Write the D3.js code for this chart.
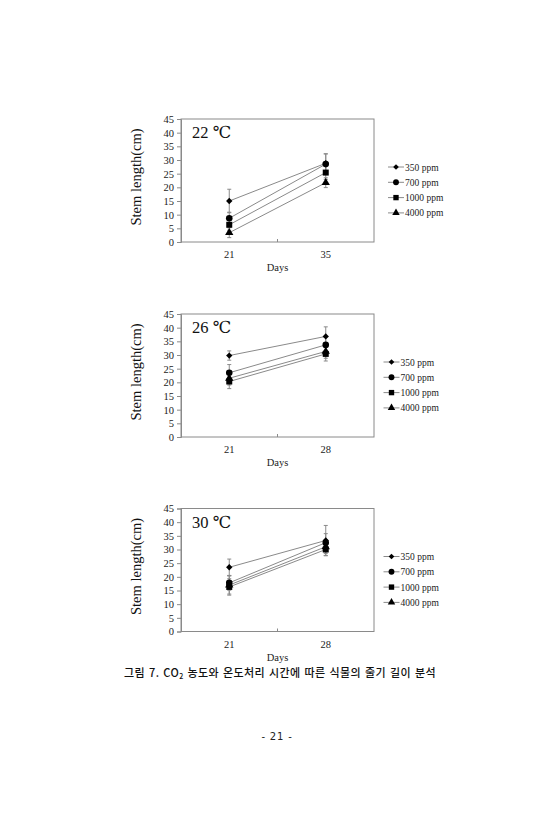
<!DOCTYPE html>
<html><head><meta charset="utf-8">
<script src="https://cdn.jsdelivr.net/npm/d3@7"></script>
<style>body{margin:0;background:#fff}svg{display:block}</style>
</head><body>
<script>
// ---- data ----
const seriesNames = ["350 ppm", "700 ppm", "1000 ppm", "4000 ppm"];
const panelTitles = ["22 ℃", "26 ℃", "30 ℃"];
const daysP1 = ["21", "35"];
const daysP2 = ["21", "28"];
const daysP3 = ["21", "28"];
const yTicks = [0, 5, 10, 15, 20, 25, 30, 35, 40, 45];
// values per series [day1, day2]
const p1_350 = [15.0, 28.8], p1_700 = [8.7, 28.5], p1_1000 = [6.3, 25.4], p1_4000 = [3.4, 21.7];
const p1_err350 = [4.3, 3.5], p1_err700 = [2.2, 3.7], p1_err1000 = [2.0, 2.5], p1_err4000 = [1.8, 1.8];
const p2_350 = [29.8, 36.8], p2_700 = [23.5, 33.7], p2_1000 = [20.3, 30.4], p2_4000 = [21.5, 31.3];
const p2_err350 = [1.7, 3.5], p2_err700 = [3.0, 3.0], p2_err1000 = [2.6, 2.6], p2_err4000 = [2.5, 2.5];
const p3_350 = [23.5, 33.3], p3_700 = [17.8, 32.5], p3_1000 = [16.3, 30.0], p3_4000 = [17.0, 31.0];
const p3_err350 = [3.0, 5.5], p3_err700 = [2.7, 3.3], p3_err1000 = [3.0, 2.3], p3_err4000 = [3.3, 2.5];

const panels = [
  {title: panelTitles[0], days: daysP1, vals: [p1_350, p1_700, p1_1000, p1_4000], errs: [p1_err350, p1_err700, p1_err1000, p1_err4000]},
  {title: panelTitles[1], days: daysP2, vals: [p2_350, p2_700, p2_1000, p2_4000], errs: [p2_err350, p2_err700, p2_err1000, p2_err4000]},
  {title: panelTitles[2], days: daysP3, vals: [p3_350, p3_700, p3_1000, p3_4000], errs: [p3_err350, p3_err700, p3_err1000, p3_err4000]}
];

// ---- layout ----
const W = 555, H = 840;
const tops = [119, 314, 508.5];
const legendX = [396, 391.5, 391.5];
const plotL = 181, plotR = 374, plotH = 123;
const serif = "'Liberation Serif','DejaVu Serif',serif";
const gray = "#8a8a8a";

const svg = d3.select("body").append("svg").attr("width", W).attr("height", H);
svg.append("rect").attr("width", W).attr("height", H).attr("fill", "#fff");

// diamond drawn as a rotated square for an even rhombus
const diamondSym = { draw(ctx, size) { const r = Math.sqrt(size / 2); ctx.moveTo(0, -r); ctx.lineTo(r, 0); ctx.lineTo(0, r); ctx.lineTo(-r, 0); ctx.closePath(); } };
const symTypes = [diamondSym, d3.symbolCircle, d3.symbolSquare, d3.symbolTriangle];
const symSizes = [20, 34, 36, 30];

panels.forEach((p, pi) => {
  const top = tops[pi], bottom = top + plotH;
  const x = d3.scaleBand().domain(p.days).range([plotL, plotR]).padding(0);
  const y = d3.scaleLinear().domain([0, 45]).range([bottom, top]);
  const g = svg.append("g");
  const cx = d => x(d) + x.bandwidth() / 2;

  // plot border
  g.append("rect").attr("x", plotL).attr("y", top).attr("width", plotR - plotL).attr("height", plotH)
    .attr("fill", "none").attr("stroke", gray).attr("stroke-width", 1);

  // y axis
  const ya = g.append("g").attr("transform", `translate(${plotL},0)`)
    .call(d3.axisLeft(y).tickValues(yTicks).tickSize(4).tickPadding(3));
  ya.select(".domain").attr("stroke", gray);
  ya.selectAll(".tick line").attr("stroke", gray);
  ya.selectAll("text").attr("font-family", serif).attr("font-size", 10.5).attr("fill", "#222");

  // x axis (ticks between categories)
  const xa = g.append("g").attr("transform", `translate(0,${bottom})`)
    .call(d3.axisBottom(x).tickSize(0).tickPadding(9));
  xa.select(".domain").remove();
  xa.selectAll("text").attr("font-family", serif).attr("font-size", 10.5).attr("fill", "#222");
  g.selectAll(".midtick").data(p.days.slice(1)).enter().append("line")
    .attr("x1", d => x(d)).attr("x2", d => x(d)).attr("y1", bottom).attr("y2", bottom - 3)
    .attr("stroke", gray);

  g.append("text").attr("x", (plotL + plotR) / 2).attr("y", bottom + 29).attr("text-anchor", "middle")
    .attr("font-family", serif).attr("font-size", 10.5).attr("fill", "#222").text("Days");

  // y label
  g.append("text").attr("transform", `translate(141,${top + 58}) rotate(-90)`).attr("text-anchor", "middle")
    .attr("font-family", serif).attr("font-size", 14.5).attr("fill", "#111").text("Stem length(cm)");

  // title
  g.append("text").attr("x", 192).attr("y", top + 19).attr("font-family", serif).attr("font-size", 16.5)
    .attr("fill", "#111").text(p.title);

  // series lines + error bars
  p.vals.forEach((vals, si) => {
    const errs = p.errs[si];
    const pts = p.days.map((d, i) => ({d, v: vals[i], e: errs[i]}));
    g.append("path").datum(pts)
      .attr("d", d3.line().x(q => cx(q.d)).y(q => y(q.v)))
      .attr("fill", "none").attr("stroke", gray).attr("stroke-width", 1);
    const eb = g.append("g");
    pts.forEach(q => {
      eb.append("line").attr("x1", cx(q.d)).attr("x2", cx(q.d)).attr("y1", y(q.v - q.e)).attr("y2", y(q.v + q.e))
        .attr("stroke", gray).attr("stroke-width", 1);
      [q.v - q.e, q.v + q.e].forEach(t => eb.append("line").attr("x1", cx(q.d) - 2).attr("x2", cx(q.d) + 2)
        .attr("y1", y(t)).attr("y2", y(t)).attr("stroke", gray).attr("stroke-width", 1));
    });
  });
  // markers
  p.vals.forEach((vals, si) => {
    const pts = p.days.map((d, i) => ({d, v: vals[i]}));
    g.selectAll(null).data(pts).enter().append("path")
      .attr("transform", q => `translate(${cx(q.d)},${y(q.v)})`)
      .attr("d", d3.symbol().type(symTypes[si]).size(symSizes[si]))
      .attr("fill", "#000");
  });

  // legend
  const lx = legendX[pi];
  const ly0 = top + 48;
  seriesNames.forEach((name, si) => {
    const ly = ly0 + si * 15.3;
    g.append("line").attr("x1", lx - 8).attr("x2", lx + 8).attr("y1", ly).attr("y2", ly)
      .attr("stroke", gray).attr("stroke-width", 1);
    g.append("path").attr("transform", `translate(${lx},${ly})`)
      .attr("d", d3.symbol().type(symTypes[si]).size(symSizes[si] * 0.8)).attr("fill", "#000");
    g.append("text").attr("x", lx + 9).attr("y", ly + 3.5).attr("font-family", serif).attr("font-size", 9.5)
      .attr("fill", "#222").text(name);
  });
});

// caption
const cap = svg.append("text").attr("x", 124).attr("y", 677)
  .attr("font-family", "'Noto Sans CJK KR','Noto Sans',sans-serif").attr("font-size", 11).attr("font-weight", 500)
  .attr("letter-spacing", 0.42).attr("word-spacing", 1)
  .attr("fill", "#111");
cap.append("tspan").text("그림 7. CO");
cap.append("tspan").attr("font-size", 7).attr("dy", 2).text("2");
cap.append("tspan").attr("dy", -2).text(" 농도와 온도처리 시간에 따른 식물의 줄기 길이 분석");

// page number
svg.append("text").attr("x", 277).attr("y", 740).attr("text-anchor", "middle")
  .attr("font-family", "'DejaVu Sans',sans-serif").attr("font-size", 10).attr("fill", "#222")
  .attr("letter-spacing", 0.8).text("- 21 -");
</script>
</body></html>
